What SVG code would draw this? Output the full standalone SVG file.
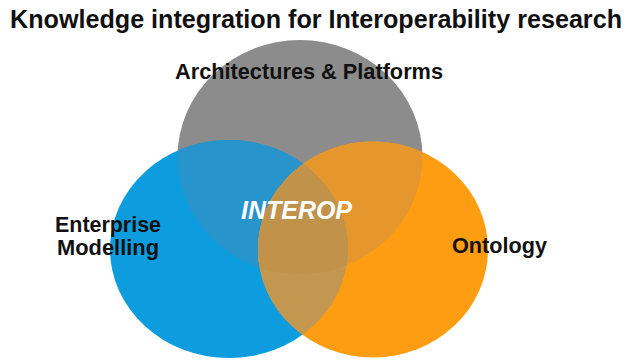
<svg xmlns="http://www.w3.org/2000/svg" width="632" height="360" viewBox="0 0 632 360">
  <style>
    .title { font-family: "Liberation Sans", Arial, sans-serif; font-weight: bold; font-size: 25px; fill: #111; }
    .label { font-family: "Liberation Sans", Arial, sans-serif; font-weight: bold; font-size: 21.5px; fill: #111; }
    .core  { font-family: "Liberation Sans", Arial, sans-serif; font-weight: bold; font-style: italic; font-size: 26px; fill: #ffffff; }
  </style>
  <defs>
    <clipPath id="clip-gray"><ellipse cx="300" cy="157" rx="122.5" ry="117"/></clipPath>
    <clipPath id="clip-blue"><ellipse cx="229" cy="249" rx="119" ry="109"/></clipPath>
    <clipPath id="clip-orange"><ellipse cx="373" cy="249.5" rx="115" ry="108"/></clipPath>
  </defs>
  <rect width="632" height="360" fill="#ffffff"/>

  <text class="title" x="10" y="28" textLength="612" lengthAdjust="spacingAndGlyphs">Knowledge integration for Interoperability research</text>

  <!-- Architectures & Platforms -->
  <g id="node-architectures">
    <ellipse cx="300" cy="157" rx="122.5" ry="117" fill="#8c8c8c"/>
  </g>

  <!-- Enterprise Modelling -->
  <g id="node-enterprise">
    <ellipse cx="229" cy="249" rx="119" ry="109" fill="#0d9ddf"/>
    <!-- overlap with the grey set -->
    <ellipse cx="300" cy="157" rx="122.5" ry="117" fill="#2794cc" clip-path="url(#clip-blue)"/>
  </g>

  <!-- Ontology -->
  <g id="node-ontology">
    <ellipse cx="373" cy="249.5" rx="115" ry="108" fill="#ff9d12"/>
    <g clip-path="url(#clip-orange)">
      <!-- overlap with the grey set -->
      <ellipse cx="300" cy="157" rx="122.5" ry="117" fill="#e5972e"/>
      <!-- overlap with the blue set -->
      <ellipse cx="229" cy="249" rx="119" ry="109" fill="#c3974f"/>
      <!-- centre where all three meet -->
      <ellipse cx="300" cy="157" rx="122.5" ry="117" fill="#c0924a" clip-path="url(#clip-blue)"/>
    </g>
  </g>

  <g id="labels">
    <text class="label" x="175" y="79" textLength="268" lengthAdjust="spacingAndGlyphs">Architectures &amp; Platforms</text>
    <text class="label" x="55" y="232" textLength="106" lengthAdjust="spacingAndGlyphs">Enterprise</text>
    <text class="label" x="57" y="255" textLength="102" lengthAdjust="spacingAndGlyphs">Modelling</text>
    <text class="label" x="452" y="253" textLength="95" lengthAdjust="spacingAndGlyphs">Ontology</text>
    <text class="core" x="241" y="219" textLength="111" lengthAdjust="spacingAndGlyphs">INTEROP</text>
  </g>
</svg>
